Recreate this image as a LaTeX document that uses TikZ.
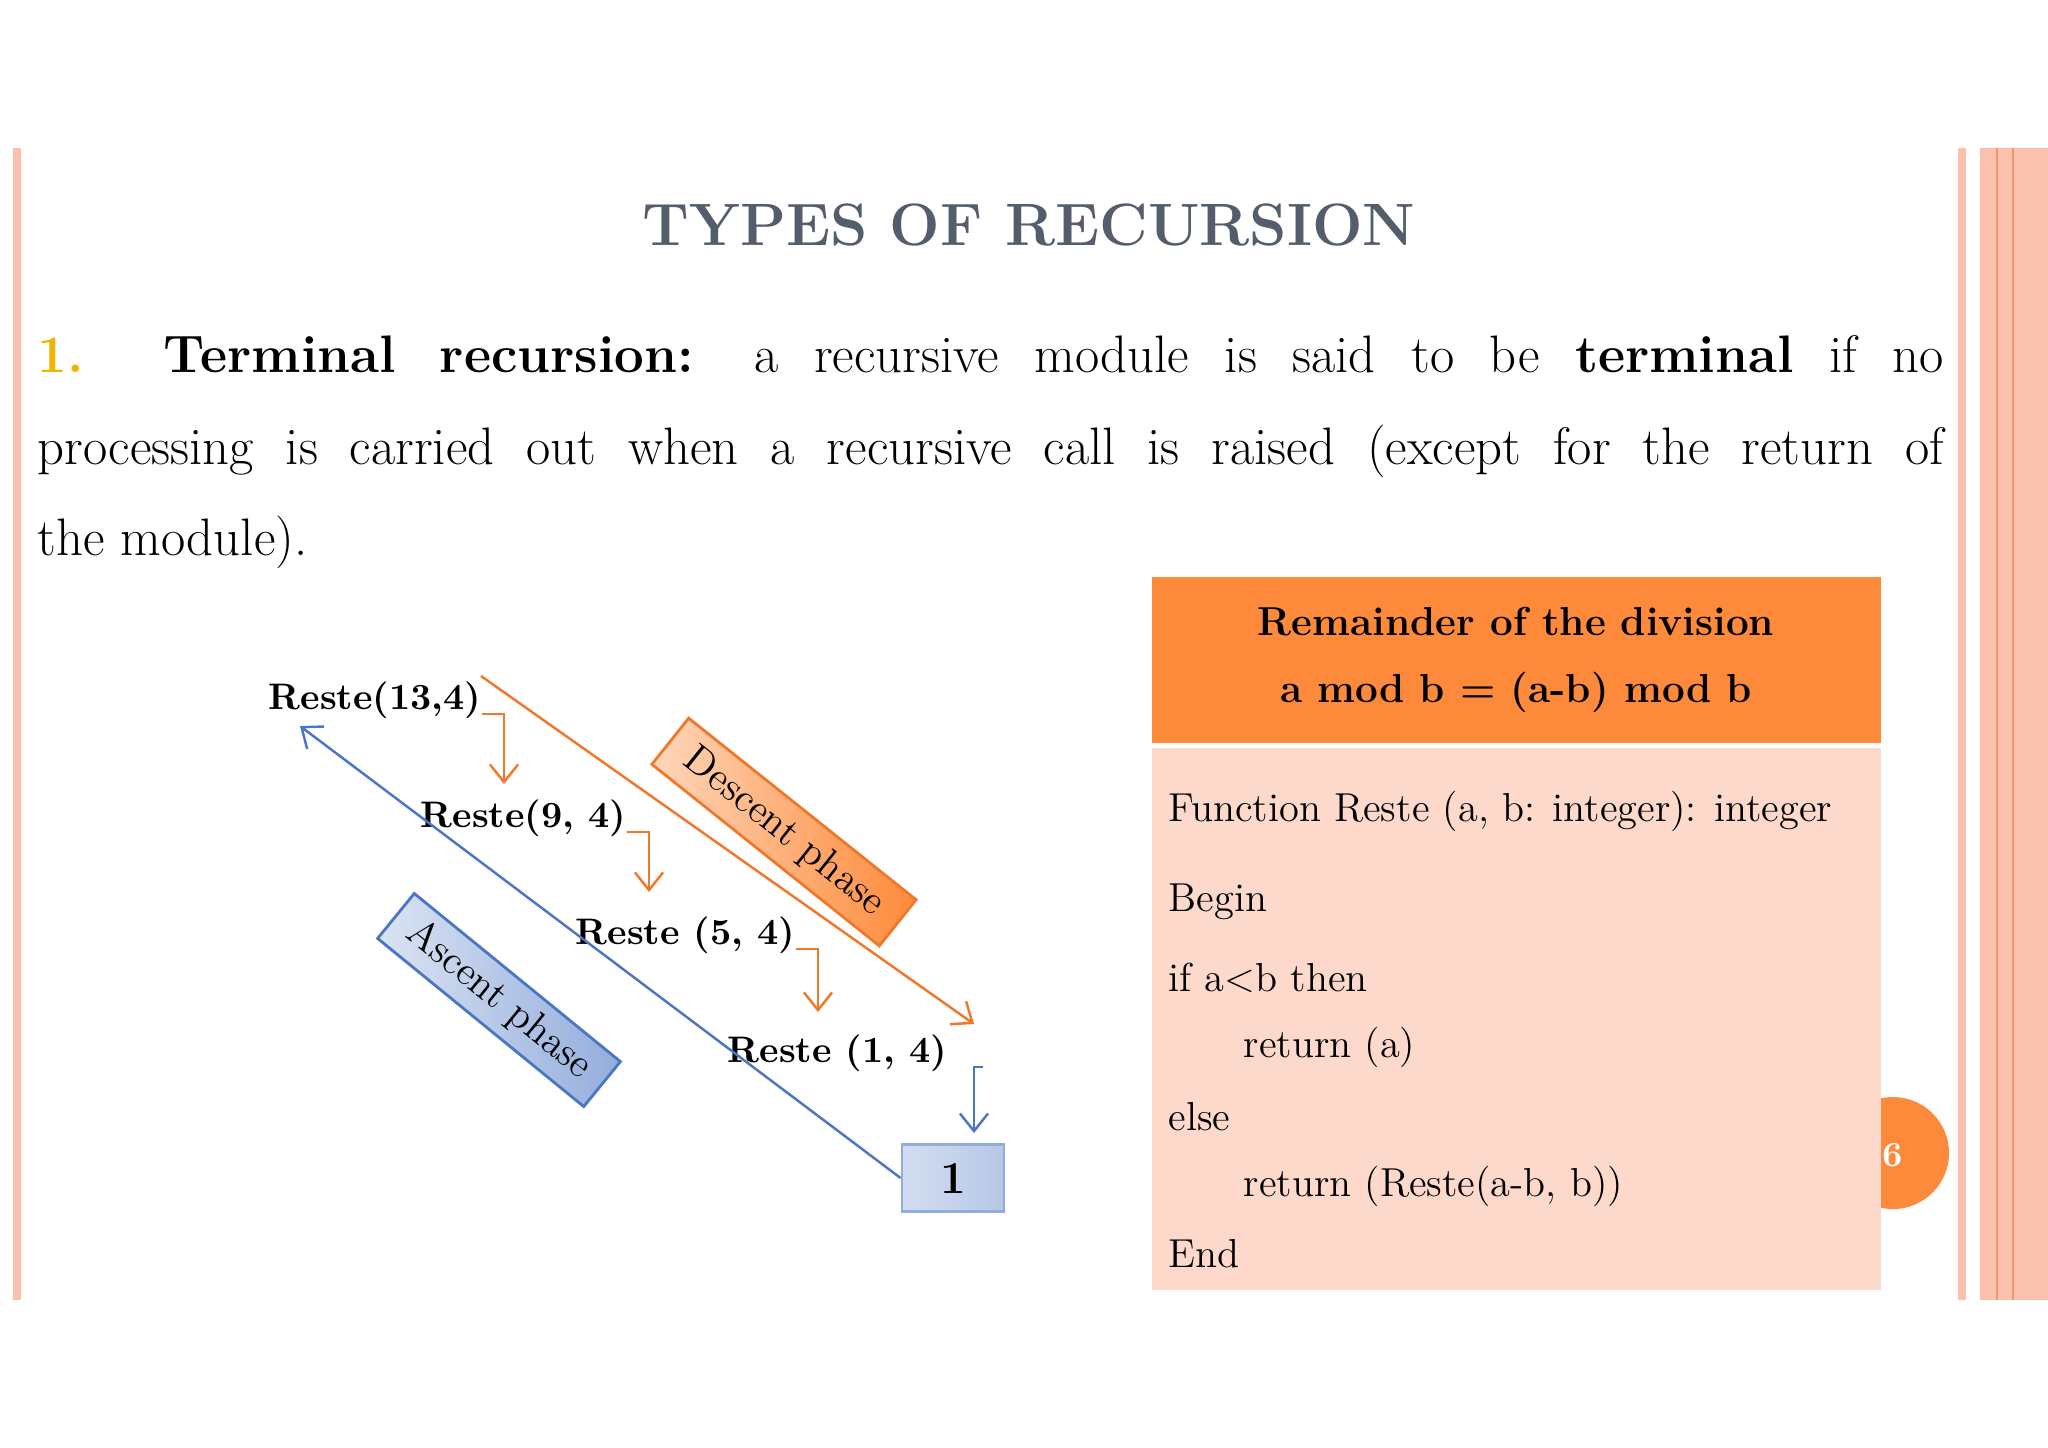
\documentclass[tikz,border=0pt]{standalone}
\usetikzlibrary{arrows.meta}
\definecolor{salm}{HTML}{F9C1AE}
\definecolor{salmd}{HTML}{F3946E}
\definecolor{titleg}{HTML}{545D6C}
\definecolor{gold}{HTML}{F0B400}
\definecolor{orng}{HTML}{FD8A3A}
\definecolor{pinkb}{HTML}{FCD9CB}
\definecolor{lorng}{HTML}{F0782A}
\definecolor{lblue}{HTML}{4A76C4}
\tikzset{
 rec/.style={font=\fontsize{10.5}{12}\selectfont\bfseries, inner sep=0pt, anchor=west},
 oarr/.style={draw=lorng, line width=0.7pt, -{Straight Barb[length=5pt,width=8pt]}},
 barr/.style={draw=lblue, line width=0.7pt, -{Straight Barb[length=5pt,width=8pt]}},
 code/.style={font=\fontsize{11.5}{13}\selectfont, anchor=west, inner sep=0pt},
}
\begin{document}
\begin{tikzpicture}[x=0.01cm,y=-0.01cm]
\useasboundingbox (0,0) rectangle (2048,1447);
\fill[white] (0,0) rectangle (2048,1447);
% borders
\fill[salm] (13,148) rectangle (21,1300);
\fill[salm] (1958,148) rectangle (1966,1300);
\fill[salm] (1980,148) rectangle (2048,1300);
\draw[salmd, line width=0.8pt] (1997,148) -- (1997,1300);
\draw[salmd, line width=0.5pt] (2013,148) -- (2013,1300);
% title
\node[font=\fontsize{17}{20}\selectfont\bfseries, text=titleg] (title) at (1029,225) {TYPES OF RECURSION};
% paragraph
\node[anchor=north west, text width=19.05cm, align=justify, inner sep=0pt,
  font=\fontsize{15}{26}\selectfont] (para) at (37,335)
 {\textbf{\color{gold}1.} \textbf{Terminal recursion:} a recursive module is said to be \textbf{terminal} if no\linebreak
 processing is carried out when a recursive call is raised (except for the return of\linebreak
 the module).};
% page circle
\fill[orng] (1893,1153) circle (56);
\node[text=white, font=\fontsize{10}{12}\selectfont\bfseries] (pg) at (1882,1155) {16};
% code boxes
\fill[orng] (1152,577) rectangle (1881,743);
\fill[pinkb] (1152,748) rectangle (1881,1290);
\node[font=\fontsize{11.5}{13}\selectfont\bfseries] (h1) at (1516,622) {Remainder of the division};
\node[font=\fontsize{11.5}{13}\selectfont\bfseries] (h2) at (1516,692) {a mod b = (a-b) mod b};
\node[code] (c1) at (1168,811) {Function Reste (a, b: integer): integer};
\node[code] (c2) at (1168,902) {Begin};
\node[code] (c3) at (1168,978) {if a<b then};
\node[code] (c4) at (1243,1047) {return (a)};
\node[code] (c5) at (1168,1117) {else};
\node[code] (c6) at (1243,1186) {return (Reste(a-b, b))};
\node[code] (c7) at (1168,1254) {End};
% diagram
\node[rec] (r1) at (268,700) {Reste(13,4)};
\node[rec] (r2) at (420,818) {Reste(9, 4)};
\node[rec] (r3) at (575,935) {Reste (5, 4)};
\node[rec] (r4) at (727,1053) {Reste (1, 4)};
\node[draw=lblue!60, line width=0.8pt, left color=lblue!25, right color=lblue!40,
  minimum width=102*0.01cm, minimum height=67*0.01cm, font=\fontsize{13}{15}\selectfont\bfseries] (one) at (953,1178) {1};
\coordinate (d1) at (481,676);
\coordinate (d2) at (974,1024);
\coordinate (top1) at (300,726);
\coordinate (a1) at (504,784);
\coordinate (a2) at (649,892);
\coordinate (a3) at (818,1012);
\coordinate (b4) at (974,1133);
\draw[oarr] (d1) -- (d2);
\draw[barr] (one.west) -- (top1);
\draw[oarr] ([yshift=-4]r1.east) -| (a1);
\draw[oarr] ([yshift=-4]r2.east) -| (a2);
\draw[oarr] ([yshift=-4]r3.east) -| (a3);
\draw[barr] ([xshift=10,yshift=-4]r4.east) -| (b4);
\node[rotate=-38.6, draw=lorng, line width=0.8pt, left color=orng!35, right color=orng,
  minimum width=291*0.01cm, minimum height=59*0.01cm, inner sep=0pt,
  font=\fontsize{11.5}{13}\selectfont] (desc) at (784,832) {Descent phase};
\node[rotate=-39.2, draw=lblue, line width=0.8pt, left color=lblue!20, right color=lblue!60!white,
  minimum width=266*0.01cm, minimum height=58*0.01cm, inner sep=0pt,
  font=\fontsize{11.5}{13}\selectfont] (asc) at (499,1000) {Ascent phase};
\end{tikzpicture}
\end{document}
